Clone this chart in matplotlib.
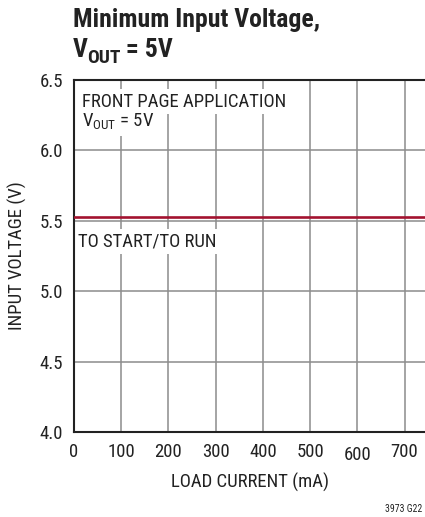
import matplotlib
matplotlib.use("Agg")
import matplotlib.pyplot as plt
from matplotlib import font_manager
from matplotlib.transforms import offset_copy

# data
load_current = [0, 750]
min_vin = [5.53, 5.53]
x_ticks = [0, 100, 200, 300, 400, 500, 600, 700]
y_ticks = [4.0, 4.5, 5.0, 5.5, 6.0, 6.5]

names = {f.name for f in font_manager.fontManager.ttflist}
main_font = "Roboto Condensed" if "Roboto Condensed" in names else "Liberation Sans"
plt.rcParams["font.family"] = [main_font, "DejaVu Sans"]
plt.rcParams["mathtext.fontset"] = "custom"
plt.rcParams["mathtext.rm"] = main_font
plt.rcParams["mathtext.bf"] = main_font + ":bold"

ink = "#222222"
fs = 13.5
fig = plt.figure(figsize=(4.25, 5.17), dpi=100)
ax = fig.add_axes([0.174, 0.1644, 0.83, 0.681])

ax.plot(load_current, min_vin, color="#a3122f", lw=1.9, zorder=3)

ax.set_xlim(0, 747)
ax.set_ylim(4.0, 6.5)
ax.set_xticks(x_ticks)
ax.set_yticks(y_ticks)
ax.set_yticklabels([f"{v:.1f}" for v in y_ticks])
ax.grid(True, color="#8c8c8c", lw=1.1)
ax.set_axisbelow(True)
ax.tick_params(length=0, labelsize=fs, colors=ink)
ax.tick_params(axis="y", pad=8)
ax.tick_params(axis="x", pad=8)
for lab in ax.get_xticklabels():
    if lab.get_text() == "600":
        lab.set_y(-0.009)

for side in ["left", "top", "bottom"]:
    ax.spines[side].set_color(ink)
    ax.spines[side].set_linewidth(1.5)
ax.spines["right"].set_visible(False)

ax.set_xlabel("LOAD CURRENT (mA)", fontsize=fs, color=ink, labelpad=6)
ax.set_ylabel("INPUT VOLTAGE (V)", fontsize=fs, color=ink, labelpad=9)

# white boxes hide the grid behind the notes but stay under the spines
box = dict(facecolor="white", edgecolor="none", pad=2.5)
ax.text(18, 6.31, "FRONT PAGE APPLICATION", fontsize=fs, color=ink,
        va="baseline", ha="left", bbox=box, zorder=2.2)
ax.text(18, 6.166, "V$_{\\mathregular{OUT}}$ = 5V", fontsize=fs, color=ink,
        va="baseline", ha="left", bbox=box, zorder=2.2)
ax.text(8, 5.316, "TO START/TO RUN", fontsize=fs, color=ink,
        va="baseline", ha="left", bbox=box, zorder=2.2)

# title, second line built piece by piece so the subscript sits low like the original
fig.text(0.172, 0.947, "Minimum Input Voltage,", fontsize=18.5, fontweight="bold",
         color=ink, va="baseline", ha="left")
renderer = fig.canvas.get_renderer()
pieces = [("V", 18.5, 0), ("OUT", 14, -6), (" = 5V", 18.5, 0)]
x_px = 0.0
for s, size, dy in pieces:
    tr = offset_copy(fig.transFigure, fig=fig, x=x_px, y=dy, units="dots")
    t = fig.text(0.172, 0.890, s, fontsize=size, fontweight="bold", color=ink,
                 va="baseline", ha="left", transform=tr)
    x_px += t.get_window_extent(renderer).width - 0.5

fig.text(0.993, 0.0105, "3973 G22", fontsize=7, color=ink, ha="right", va="baseline")

fig.savefig("out.png", dpi=100)
